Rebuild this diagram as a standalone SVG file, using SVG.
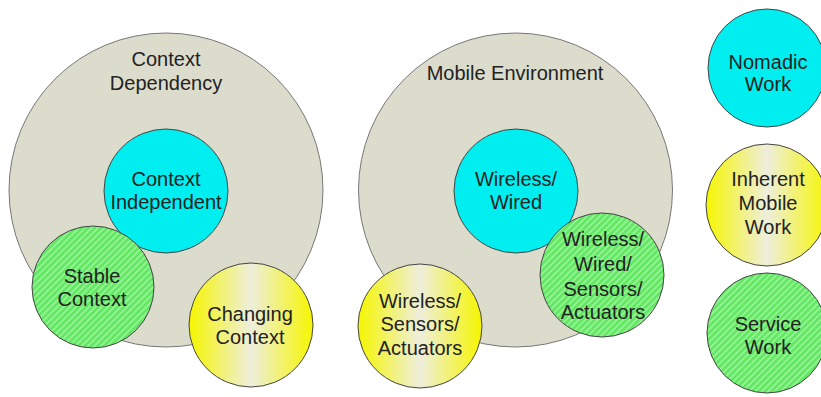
<svg xmlns="http://www.w3.org/2000/svg" width="821" height="397" viewBox="0 0 821 397">
<defs>
<pattern id="hatch" patternUnits="userSpaceOnUse" width="4.5" height="4.5" patternTransform="rotate(45)">
<rect width="4.5" height="4.5" fill="#62e862"/>
<rect width="1.8" height="4.5" fill="#95f295"/>
</pattern>
<linearGradient id="yel" x1="0" y1="0" x2="1" y2="0">
<stop offset="0" stop-color="#f6f600"/>
<stop offset="0.5" stop-color="#eeeedd"/>
<stop offset="1" stop-color="#f6f600"/>
</linearGradient>
<style>
.big{fill:#dcdccd;stroke:#777;stroke-width:1}
.cyan{fill:#00eef0;stroke:#444;stroke-width:1}
.green{fill:url(#hatch);stroke:#444;stroke-width:1}
.yellow{fill:url(#yel);stroke:#444;stroke-width:1}
text{font-family:"Liberation Sans",Arial,sans-serif;font-size:20px;fill:#222;text-anchor:middle}
</style>
</defs>
<rect width="821" height="397" fill="#fff"/>
<g id="context-dependency">
<circle class="big" cx="166" cy="190" r="157"/>
<text x="166" y="66">Context</text>
<text x="166" y="90">Dependency</text>
</g>
<g id="context-independent">
<circle class="cyan" cx="166" cy="191" r="62"/>
<text x="166" y="186">Context</text>
<text x="166" y="209">Independent</text>
</g>
<g id="stable-context">
<circle class="green" cx="93" cy="287" r="61"/>
<text x="92" y="283">Stable</text>
<text x="92" y="306">Context</text>
</g>
<g id="changing-context">
<circle class="yellow" cx="251" cy="325" r="62"/>
<text x="250" y="321">Changing</text>
<text x="250" y="344">Context</text>
</g>
<g id="mobile-environment">
<circle class="big" cx="515.5" cy="190" r="157"/>
<text x="515" y="80">Mobile Environment</text>
</g>
<g id="wireless-wired">
<circle class="cyan" cx="516" cy="191" r="62"/>
<text x="516" y="186">Wireless/</text>
<text x="516" y="209">Wired</text>
</g>
<g id="wireless-wired-sensors-actuators">
<circle class="green" cx="602" cy="275" r="62"/>
<text x="603" y="246">Wireless/</text>
<text x="603" y="271">Wired/</text>
<text x="603" y="296">Sensors/</text>
<text x="603" y="319">Actuators</text>
</g>
<g id="wireless-sensors-actuators">
<circle class="yellow" cx="420" cy="326" r="62"/>
<text x="420" y="308">Wireless/</text>
<text x="420" y="331">Sensors/</text>
<text x="420" y="355">Actuators</text>
</g>
<g id="nomadic-work">
<circle class="cyan" cx="767" cy="68" r="59"/>
<text x="768" y="69">Nomadic</text>
<text x="768" y="91">Work</text>
</g>
<g id="inherent-mobile-work">
<circle class="yellow" cx="767" cy="205" r="61"/>
<text x="768" y="186">Inherent</text>
<text x="768" y="210">Mobile</text>
<text x="768" y="234">Work</text>
</g>
<g id="service-work">
<circle class="green" cx="767" cy="333" r="60"/>
<text x="768" y="331">Service</text>
<text x="768" y="354">Work</text>
</g>
<g id="connectors"/>
</svg>
